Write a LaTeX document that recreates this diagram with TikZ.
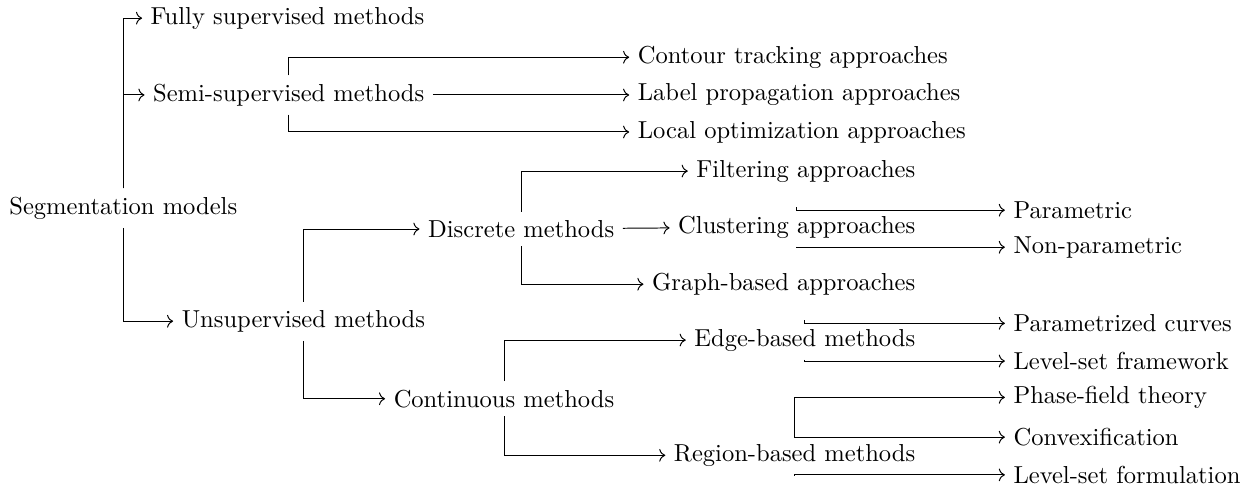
\documentclass[tikz,border=0pt]{standalone}
\usepackage{amssymb}
\usepackage{tikz}
\usetikzlibrary{positioning, arrows.meta, calc}

\begin{document}
\begin{tikzpicture}
		\tikzstyle{txt} = [inner sep=3.33pt]
		\tikzstyle{txtl} = [txt, anchor=west]
		\tikzstyle{txtr} = [txt, anchor=east]
		\tikzstyle{arr} = [-{Computer Modern Rightarrow}, thin]
		\useasboundingbox (0,0) rectangle (18,-6.99);
		\node [txtl] (v1) at (0.01,-2.98) {Segmentation models};
		\node [txtr] (v2) at (6.20,-0.26) {Fully supervised methods};
		\node [txtr] (v3) at (6.20,-1.36) {Semi-supervised methods};
		\node [txtr] (v4) at (6.21,-4.60) {Unsupervised methods};
		\node [txtl] (v5) at (9.01,-0.82) {Contour tracking approaches};
		\node [txtl] (v6) at (9.01,-1.36) {Label propagation approaches};
		\node [txtl] (v7) at (9.01,-1.89) {Local optimization approaches};
		\node [txtr] (v8) at (8.92,-3.28) {Discrete methods};
		\node [txtr] (v9) at (8.92,-5.71) {Continuous methods};
		\node [txtr] (v10) at (13.23,-2.45) {Filtering approaches};
		\node [txtr] (v11) at (13.23,-3.25) {Clustering approaches};
		\node [txtr] (v12) at (13.23,-4.07) {Graph-based approaches};
		\node [txtr] (v13) at (13.23,-4.87) {Edge-based methods};
		\node [txtr] (v14) at (13.23,-6.52) {Region-based methods};
		\node [txtl] (v15) at (14.39,-3.01) {Parametric};
		\node [txtl] (v16) at (14.39,-3.54) {Non-parametric};
		\node [txtl] (v17) at (14.39,-4.63) {Parametrized curves};
		\node [txtl] (v18) at (14.39,-5.17) {Level-set framework};
		\node [txtl] (v19) at (14.39,-5.69) {Phase-field theory};
		\node [txtl] (v20) at (14.39,-6.26) {Convexification};
		\node [txtl] (v21) at (14.39,-6.80) {Level-set formulation};
		% first level
		\draw [arr] (v1.north) |- (v2);
		\draw [arr] (v1.north) |- (v3);
		\draw [arr] (v1.south) |- (v4);
		% semi-supervised
		\draw [arr] (v3.north) |- (v5);
		\draw [arr] (v3) edge (v6);
		\draw [arr] (v3.south) |- (v7);
		% unsupervised
		\draw [arr] (v4.north) |- (v8);
		\draw [arr] (v4.south) |- (v9);
		\draw [arr] (v8.north) |- (v10);
		\draw [arr] (v8) edge (v11);
		\draw [arr] (v8.south) |- (v12);
		\draw [arr] (v11.north) |- (v15);
		\draw [arr] (v11.south) |- (v16);
		\draw [arr] (v9.north) |- (v13);
		\draw [arr] (v9.south) |- (v14);
		\draw [arr] (v13.north) |- (v17);
		\draw [arr] (v13.south) |- (v18);
		\draw [arr] (v14.north) |- (v19);
		\draw [arr] (v14.north) |- (v20);
		\draw [arr] (v14.south) |- (v21);
\end{tikzpicture}
\end{document}
